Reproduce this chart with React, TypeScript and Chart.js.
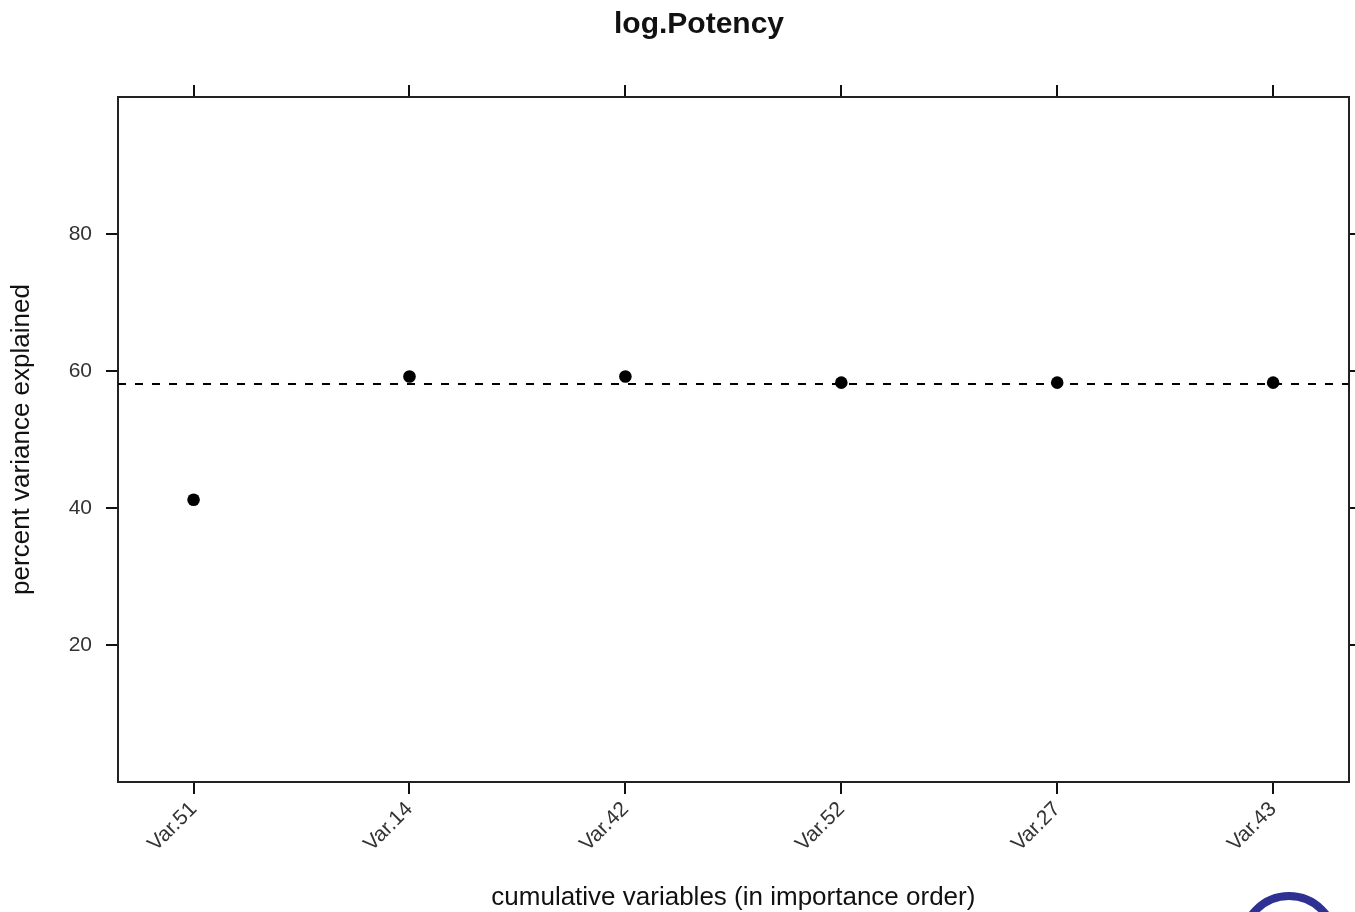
import React, { useEffect, useRef } from "react";
import { Chart, registerables } from "chart.js";

Chart.register(...registerables);

const TITLE = "log.Potency";
const X_TITLE = "cumulative variables (in importance order)";
const Y_TITLE = "percent variance explained";

const categories = ["Var.51", "Var.14", "Var.42", "Var.52", "Var.27", "Var.43"];
const percentExplained = [41.2, 59.2, 59.2, 58.3, 58.3, 58.3];
const referenceLevel = [58.1];
const yTicks = [20, 40, 60, 80];

const Y_MIN = 0;
const Y_MAX = 100;
const X_PAD = 0.35;

const FONT = "'Liberation Sans', Arial, Helvetica, sans-serif";

export default function App() {
  const canvasRef = useRef<HTMLCanvasElement | null>(null);

  useEffect(() => {
    const canvas = canvasRef.current;
    if (!canvas) return;

    const xMin = -X_PAD;
    const xMax = categories.length - 1 + X_PAD;

    const catTicks = (scale: any) => {
      scale.ticks = categories.map((_, i) => ({ value: i }));
    };
    const yTickFn = (scale: any) => {
      scale.ticks = yTicks.map((v) => ({ value: v }));
    };

    const grid = {
      display: true,
      drawOnChartArea: false,
      drawTicks: true,
      tickLength: 12,
      color: "#111",
      lineWidth: 2,
    };
    const border = { display: true, color: "#222", width: 2 };

    const decor = {
      id: "decor",
      afterDraw(chart: any) {
        const ctx = chart.ctx as CanvasRenderingContext2D;
        ctx.save();
        ctx.fillStyle = "#111";
        ctx.font = `bold 30px ${FONT}`;
        ctx.textAlign = "center";
        ctx.textBaseline = "middle";
        ctx.fillText(TITLE, 699, 25);
        ctx.beginPath();
        ctx.arc(1289, 942, 46, 0, Math.PI * 2);
        ctx.lineWidth = 8;
        ctx.strokeStyle = "#2e3192";
        ctx.stroke();
        ctx.restore();
      },
    };

    const chart = new Chart(canvas, {
      type: "scatter",
      data: {
        datasets: [
          {
            type: "scatter",
            label: "percent explained",
            data: categories.map((_, i) => ({ x: i, y: percentExplained[i] })),
            pointRadius: 6.3,
            pointBackgroundColor: "#000",
            pointBorderColor: "#000",
            pointBorderWidth: 0,
            order: 0,
            xAxisID: "x",
            yAxisID: "y",
          },
          {
            type: "line",
            label: "reference",
            data: [
              { x: xMin, y: referenceLevel[0] },
              { x: xMax, y: referenceLevel[0] },
            ],
            borderColor: "#000",
            borderWidth: 2,
            borderDash: [8, 9],
            pointRadius: 0,
            fill: false,
            order: 1,
            xAxisID: "x",
            yAxisID: "y",
          } as any,
        ],
      },
      options: {
        animation: false,
        responsive: true,
        maintainAspectRatio: false,
        layout: { padding: 0 },
        plugins: {
          legend: { display: false },
          tooltip: { enabled: false },
          title: { display: false },
        },
        scales: {
          x: {
            type: "linear",
            position: "bottom",
            min: xMin,
            max: xMax,
            bounds: "data",
            afterBuildTicks: catTicks,
            afterFit: (s: any) => {
              s.height = 130;
            },
            grid,
            border,
            ticks: {
              autoSkip: false,
              minRotation: 45,
              maxRotation: 45,
              padding: 3,
              color: "#333",
              font: { family: FONT, size: 21 },
              callback: (v: any) => categories[Math.round(Number(v))] ?? "",
            },
            title: {
              display: true,
              text: X_TITLE,
              color: "#111",
              font: { family: FONT, size: 26 },
              padding: { top: 0, bottom: -1 },
            },
          },
          x2: {
            type: "linear",
            position: "top",
            min: xMin,
            max: xMax,
            bounds: "data",
            afterBuildTicks: catTicks,
            afterFit: (s: any) => {
              s.height = 97;
            },
            grid,
            border,
            ticks: { display: false },
          },
          y: {
            type: "linear",
            position: "left",
            min: Y_MIN,
            max: Y_MAX,
            bounds: "data",
            afterBuildTicks: yTickFn,
            afterFit: (s: any) => {
              s.width = 118;
            },
            grid,
            border,
            ticks: {
              padding: 14,
              color: "#333",
              font: { family: FONT, size: 21 },
            },
            title: {
              display: true,
              text: Y_TITLE,
              color: "#111",
              font: { family: FONT, size: 26 },
              padding: { top: 6, bottom: 0 },
            },
          },
          y2: {
            type: "linear",
            position: "right",
            min: Y_MIN,
            max: Y_MAX,
            bounds: "data",
            afterBuildTicks: yTickFn,
            afterFit: (s: any) => {
              s.width = 5;
            },
            grid,
            border,
            ticks: { display: false },
          },
        } as any,
      },
      plugins: [decor],
    });

    return () => {
      chart.destroy();
    };
  }, []);

  return (
    <div
      style={{
        position: "absolute",
        left: 0,
        top: 0,
        width: 1355,
        height: 912,
        background: "#fff",
      }}
    >
      <canvas ref={canvasRef} />
    </div>
  );
}
